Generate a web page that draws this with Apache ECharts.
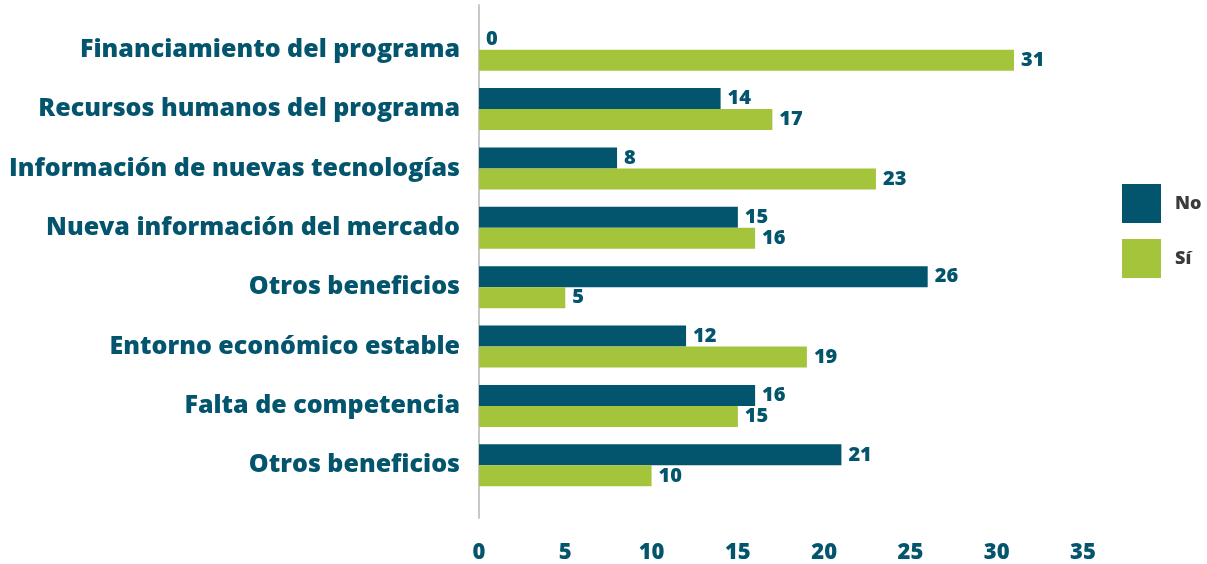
<!DOCTYPE html>
<html>
<head>
<meta charset="utf-8">
<script src="https://cdn.jsdelivr.net/npm/echarts@6/dist/echarts.min.js"></script>
<style>
  html, body { margin: 0; padding: 0; background: #ffffff; }
  #chart { width: 1207px; height: 564px; }
</style>
</head>
<body>
<div id="chart"></div>
<script>
// Beneficios percibidos del programa: respuestas "No" y "Sí" por categoría
const categories = [
  'Financiamiento del programa',
  'Recursos humanos del programa',
  'Información de nuevas tecnologías',
  'Nueva información del mercado',
  'Otros beneficios',
  'Entorno económico estable',
  'Falta de competencia',
  'Otros beneficios '
];
const valuesNo = [0, 14, 8, 15, 26, 12, 16, 21];
const valuesSi = [31, 17, 23, 16, 5, 19, 15, 10];
const xTicks = [0, 5, 10, 15, 20, 25, 30, 35];

const TEAL = '#03546D';
const GREEN = '#A3C43B';
const FONT = '"Open Sans", sans-serif';

const chart = echarts.init(document.getElementById('chart'));

const labelStyle = {
  show: true,
  position: 'right',
  distance: 7,
  color: TEAL,
  fontFamily: FONT,
  fontWeight: 800,
  fontSize: 20
};

chart.setOption({
  animation: false,
  textStyle: { fontFamily: FONT },
  legend: {
    orient: 'vertical',
    left: 1122,
    top: 184,
    padding: 0,
    itemWidth: 39,
    itemHeight: 39,
    itemGap: 16,
    icon: 'rect',
    textStyle: { color: '#3a3a3a', fontFamily: FONT, fontWeight: 800, fontSize: 18, padding: [0, 0, 0, 9] },
    data: ['No', 'Sí']
  },
  grid: [
    { left: 479, width: 604, top: 20, height: 475, containLabel: false },
    { left: 479, width: 604, top: 5, bottom: 46, containLabel: false }
  ],
  xAxis: [
    {
      type: 'value',
      gridIndex: 0,
      min: 0,
      max: 35,
      interval: 5,
      axisLine: { show: false },
      axisTick: { show: false },
      splitLine: { show: false },
      axisLabel: {
        margin: 47,
        color: TEAL,
        fontFamily: FONT,
        fontWeight: 800,
        fontSize: 22,
        formatter: v => (xTicks.indexOf(v) >= 0 ? String(v) : '')
      }
    },
    {
      type: 'value',
      gridIndex: 1,
      show: false
    }
  ],
  yAxis: [
    {
      type: 'category',
      gridIndex: 0,
      inverse: true,
      data: categories,
      axisLine: { show: false },
      axisTick: { show: false },
      axisLabel: {
        margin: 19,
        color: TEAL,
        fontFamily: FONT,
        fontWeight: 800,
        fontSize: 25,
        formatter: s => s.trim()
      }
    },
    {
      type: 'value',
      gridIndex: 1,
      axisLine: { show: true, lineStyle: { color: '#c8c8c8', width: 2 } },
      axisTick: { show: false },
      axisLabel: { show: false },
      splitLine: { show: false }
    }
  ],
  series: [
    {
      name: 'No',
      type: 'bar',
      xAxisIndex: 0,
      yAxisIndex: 0,
      data: valuesNo,
      barWidth: 21,
      barGap: '0%',
      itemStyle: { color: TEAL },
      label: labelStyle
    },
    {
      name: 'Sí',
      type: 'bar',
      xAxisIndex: 0,
      yAxisIndex: 0,
      data: valuesSi,
      barWidth: 21,
      barGap: '0%',
      itemStyle: { color: GREEN },
      label: labelStyle
    }
  ]
});
</script>
</body>
</html>
